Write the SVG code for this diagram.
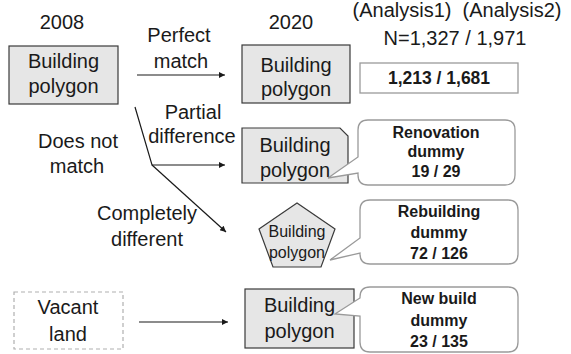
<svg xmlns="http://www.w3.org/2000/svg" width="571" height="354" viewBox="0 0 571 354">
  <style>
    text { font-family: "Liberation Sans", Arial, sans-serif; fill: #1a1a1a; text-anchor: middle; }
    .lbl { font-size: 20px; }
    .pre { white-space: pre; }
    .sm { font-size: 16px; }
    .b { font-weight: bold; font-size: 16px; }
    .bb { font-weight: bold; font-size: 17.5px; }
    .poly { fill: #e6e6e6; stroke: #3a3a3a; stroke-width: 1.2; }
    .call { fill: #ffffff; stroke: #9a9a9a; stroke-width: 1.3; }
    .edge { fill: none; stroke: #1a1a1a; stroke-width: 1.2; }
  </style>
  <defs>
    <marker id="arr" viewBox="0 0 10 10" refX="10" refY="5" markerWidth="8" markerHeight="6" markerUnits="userSpaceOnUse" orient="auto">
      <path d="M0,0 L10,5 L0,10 Z" fill="#1a1a1a"/>
    </marker>
  </defs>

  <!-- column headings -->
  <g id="headings">
    <text class="lbl" x="62" y="29">2008</text>
    <text class="lbl" x="291" y="29">2020</text>
    <text class="lbl pre" x="457" y="17" xml:space="preserve">(Analysis1)  (Analysis2)</text>
    <text class="lbl" x="455" y="45">N=1,327 / 1,971</text>
  </g>

  <!-- connectors -->
  <g id="connectors">
    <line class="edge" x1="137" y1="75" x2="225" y2="75" marker-end="url(#arr)"/>
    <polyline class="edge" points="135,107 152,165 225,165" marker-end="url(#arr)"/>
    <line class="edge" x1="152" y1="165" x2="226" y2="232" marker-end="url(#arr)"/>
    <line class="edge" x1="139" y1="322" x2="228" y2="322" marker-end="url(#arr)"/>
  </g>

  <!-- connector labels -->
  <g id="edge-labels">
    <text class="lbl" x="179" y="42">Perfect</text>
    <text class="lbl" x="181" y="68">match</text>
    <text class="lbl" x="193" y="119">Partial</text>
    <text class="lbl" x="192" y="143">difference</text>
    <text class="lbl" x="78" y="148">Does not</text>
    <text class="lbl" x="77" y="173">match</text>
    <text class="lbl" x="147" y="220">Completely</text>
    <text class="lbl" x="147" y="246">different</text>
  </g>

  <!-- 2008 building -->
  <g id="building-2008">
    <rect class="poly" x="9" y="46" width="109" height="58"/>
    <text class="lbl" x="63.5" y="68">Building</text>
    <text class="lbl" x="63.5" y="93">polygon</text>
  </g>

  <!-- 2020 building, perfect match -->
  <g id="building-match">
    <rect class="poly" x="242" y="45" width="108" height="58"/>
    <text class="lbl" x="296" y="72">Building</text>
    <text class="lbl" x="296" y="96">polygon</text>
  </g>

  <g id="count-match">
    <rect x="360" y="63" width="158" height="30" fill="#ffffff" stroke="#9a9a9a" stroke-width="1.3"/>
    <text class="bb" x="439" y="84">1,213 / 1,681</text>
  </g>

  <!-- 2020 building, partial difference -->
  <g id="building-partial">
    <polygon class="poly" points="242,128 340,128 348,136 348,183 242,183"/>
    <text class="lbl" x="295" y="152">Building</text>
    <text class="lbl" x="295" y="177">polygon</text>
  </g>

  <g id="callout-renovation">
    <path class="call" d="M368,120 H505 Q515,120 515,130 V175 Q515,185 505,185 H368 Q358,185 358,175 V173 L328,178 L358,157 V130 Q358,120 368,120 Z"/>
    <text class="b" x="436" y="138">Renovation</text>
    <text class="b" x="436" y="157">dummy</text>
    <text class="b" x="436" y="177">19 / 29</text>
  </g>

  <!-- 2020 building, completely different -->
  <g id="building-rebuilt">
    <polygon class="poly" points="297,203 259,229 273,267 321,267 335,229"/>
    <text class="sm" x="297" y="237">Building</text>
    <text class="sm" x="297" y="258">polygon</text>
  </g>

  <g id="callout-rebuilding">
    <path class="call" d="M370,200 H508 Q518,200 518,210 V254 Q518,264 508,264 H370 Q360,264 360,254 V253 L330,260 L360,238 V210 Q360,200 370,200 Z"/>
    <text class="b" x="439" y="217">Rebuilding</text>
    <text class="b" x="439" y="238">dummy</text>
    <text class="b" x="439" y="259">72 / 126</text>
  </g>

  <!-- vacant land -->
  <g id="vacant-land">
    <rect x="14" y="292" width="109" height="57" fill="none" stroke="#b0b0b0" stroke-width="1.2" stroke-dasharray="4,3"/>
    <text class="lbl" x="68" y="314">Vacant</text>
    <text class="lbl" x="68" y="341">land</text>
  </g>

  <!-- 2020 building, new build -->
  <g id="building-new">
    <rect class="poly" x="245" y="289" width="109" height="59"/>
    <text class="lbl" x="299.5" y="312">Building</text>
    <text class="lbl" x="299.5" y="338">polygon</text>
  </g>

  <g id="callout-newbuild">
    <path class="call" d="M370,287 H508 Q518,287 518,297 V342 Q518,352 508,352 H370 Q360,352 360,342 V316 L335,314 L360,298 V297 Q360,287 370,287 Z"/>
    <text class="b" x="439" y="304">New build</text>
    <text class="b" x="439" y="326">dummy</text>
    <text class="b" x="439" y="347">23 / 135</text>
  </g>
</svg>
